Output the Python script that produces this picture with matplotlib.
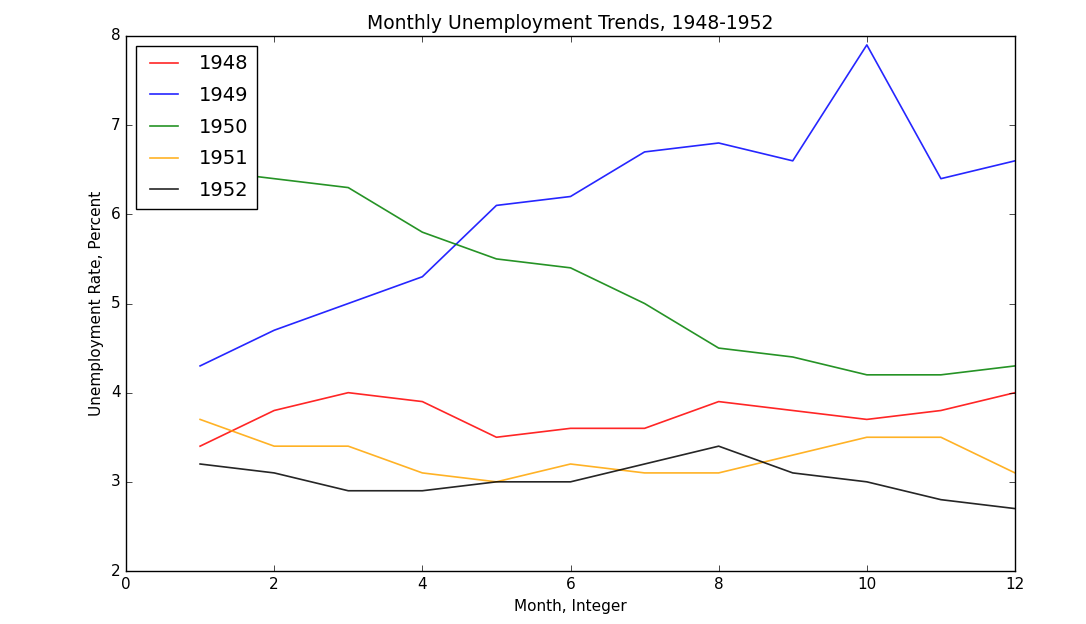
import matplotlib
matplotlib.use("Agg")
import matplotlib.pyplot as plt

plt.style.use("classic")

months = list(range(1, 13))
years = ["1948", "1949", "1950", "1951", "1952"]
rate_1948 = [3.4, 3.8, 4.0, 3.9, 3.5, 3.6, 3.6, 3.9, 3.8, 3.7, 3.8, 4.0]
rate_1949 = [4.3, 4.7, 5.0, 5.3, 6.1, 6.2, 6.7, 6.8, 6.6, 7.9, 6.4, 6.6]
rate_1950 = [6.5, 6.4, 6.3, 5.8, 5.5, 5.4, 5.0, 4.5, 4.4, 4.2, 4.2, 4.3]
rate_1951 = [3.7, 3.4, 3.4, 3.1, 3.0, 3.2, 3.1, 3.1, 3.3, 3.5, 3.5, 3.1]
rate_1952 = [3.2, 3.1, 2.9, 2.9, 3.0, 3.0, 3.2, 3.4, 3.1, 3.0, 2.8, 2.7]
series = [rate_1948, rate_1949, rate_1950, rate_1951, rate_1952]
colors = ["red", "blue", "green", "orange", "black"]

fig = plt.figure(figsize=(10.86, 6.24), dpi=100, facecolor="white")
ax = fig.add_axes([126/1086, 1-571/624, (1015-126)/1086, (571-36)/624])
for yr, vals, c in zip(years, series, colors):
    ax.plot(months, vals, color=c, label=yr, linewidth=1.2, alpha=0.85)

ax.set_xlim(0, 12)
ax.set_ylim(2, 8)
ax.set_title("Monthly Unemployment Trends, 1948-1952", fontsize=13.5)
ax.set_xlabel("Month, Integer", fontsize=11)
ax.set_ylabel("Unemployment Rate, Percent", fontsize=11)
ax.tick_params(labelsize=11)
ax.legend(loc="upper left", fontsize=14, labelspacing=0.65, borderpad=0.45)

fig.savefig("out.png", dpi=100, facecolor="white")
